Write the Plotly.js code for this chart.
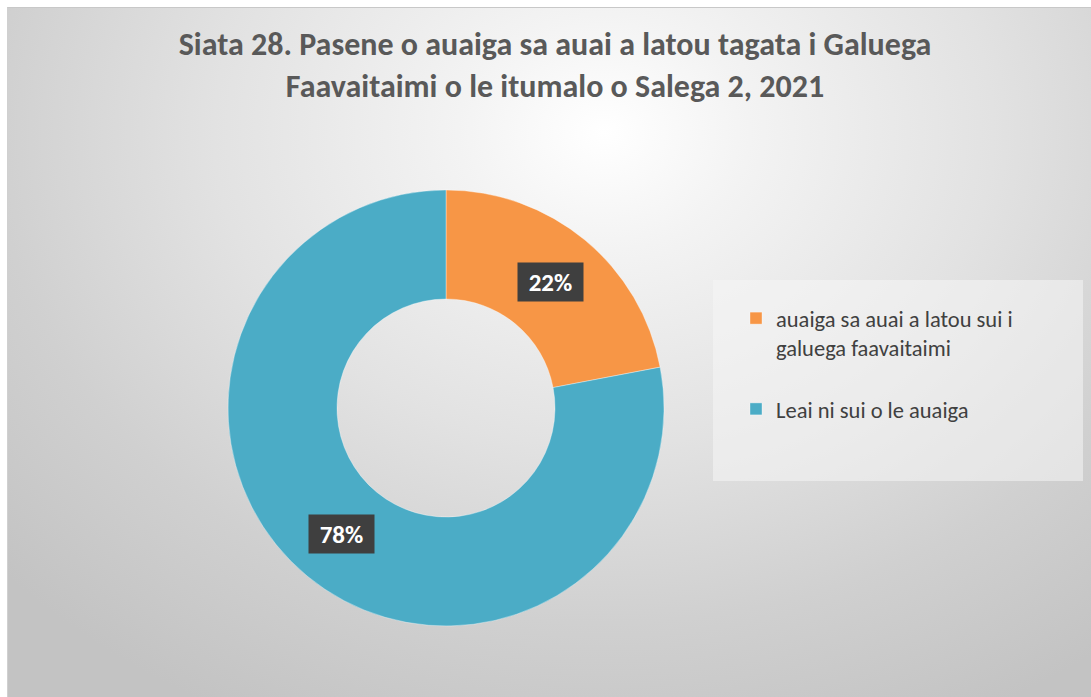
<!DOCTYPE html>
<html>
<head>
<meta charset="utf-8">
<script src="https://cdn.plot.ly/plotly-3.0.1.min.js"></script>
<style>
  html, body { margin: 0; padding: 0; background: #ffffff; width: 1091px; height: 697px; overflow: hidden; }
  #bg { position: absolute; left: 7px; top: 7px; width: 1084px; height: 690px;
        border-top: 1px solid #c8c8c8; border-left: 1px solid #d0d0d0; box-sizing: border-box;
        background: radial-gradient(ellipse 75% 95% at 55% 18%, #ffffff 0%, #f3f3f3 18%, #e2e2e2 48%, #d0d0d0 75%, #c3c3c3 100%); }
  #chart { position: absolute; left: 0; top: 0; width: 1091px; height: 697px; }
</style>
</head>
<body>
<div id="bg"></div>
<div id="chart"></div>
<script>
const categories = ["auaiga sa auai a latou sui i<br>galuega faavaitaimi<br> ", "Leai ni sui o le auaiga"];
const values = [22, 78];
const colors = ["#F79646", "#4BACC6"];
const titleText = "Siata 28. Pasene o auaiga sa auai a latou tagata i Galuega<br>Faavaitaimi o le itumalo o Salega 2, 2021";

const W = 1091, H = 697;
const cxPx = 446, cyPx = 408, rPx = 218, hole = 0.5;
const domX = [(cxPx - rPx) / W, (cxPx + rPx) / W];
const domY = [(H - cyPx - rPx) / H, (H - cyPx + rPx) / H];

// label positions derived from the values (clockwise from 12 o'clock)
const total = values.reduce((a, b) => a + b, 0);
const annotations = [];
let cum = 0;
const midR = rPx * (1 + hole) / 2;
values.forEach((v, i) => {
  const mid = (cum + v / 2) / total * 2 * Math.PI;
  cum += v;
  const px = cxPx + midR * Math.sin(mid);
  const py = cyPx - midR * Math.cos(mid);
  annotations.push({
    xref: 'paper', yref: 'paper', x: px / W, y: 1 - py / H,
    xanchor: 'center', yanchor: 'middle', showarrow: false,
    text: '<b>' + Math.round(v / total * 100) + '%</b>',
    font: {family: 'Carlito, Lato, sans-serif', size: 25, color: '#ffffff'},
    bgcolor: '#3f3f3f', width: 63, height: 36
  });
});

const data = [{
  type: 'pie', labels: categories, values: values, hole: hole,
  sort: false, direction: 'clockwise', rotation: 0,
  marker: {colors: colors, line: {color: 'rgba(255,255,255,0.6)', width: 0.6}},
  textinfo: 'none', hoverinfo: 'label+percent',
  domain: {x: domX, y: domY}
}];

const layout = {
  width: W, height: H,
  margin: {l: 0, r: 0, t: 0, b: 0},
  paper_bgcolor: 'rgba(0,0,0,0)', plot_bgcolor: 'rgba(0,0,0,0)',
  title: {text: titleText, x: 555 / W, xanchor: 'center', y: 1 - 55 / H, yanchor: 'top', yref: 'container',
          font: {family: 'Carlito, Lato, sans-serif', size: 32, color: '#595959', weight: 'bold'}},
  showlegend: true,
  legend: {x: 736 / W, xanchor: 'left', y: 1 - 297 / H, yanchor: 'top',
           bgcolor: 'rgba(0,0,0,0)', font: {family: 'Carlito, Lato, sans-serif', size: 22.5, color: '#404040'},
           valign: 'top', traceorder: 'normal'},
  shapes: [{type: 'rect', xref: 'paper', yref: 'paper', layer: 'below',
            x0: 713 / W, x1: 1083 / W, y0: 1 - 481 / H, y1: 1 - 280 / H,
            fillcolor: 'rgba(246,246,246,0.55)', line: {width: 0}}],
  annotations: annotations
};

Plotly.newPlot('chart', data, layout, {displayModeBar: false, staticPlot: true});
</script>
</body>
</html>
